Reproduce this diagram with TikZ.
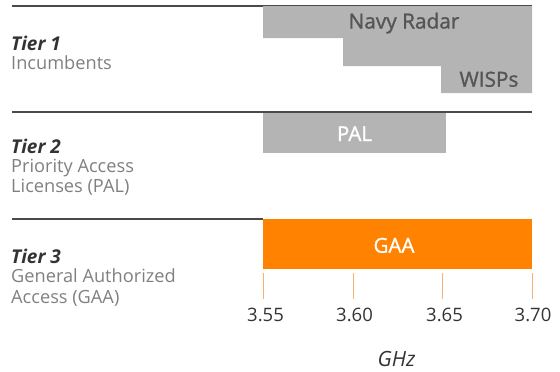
\documentclass[tikz,border=0pt]{standalone}
\usepackage{fontspec}
\setmainfont{Open Sans}
\newfontfamily\semib[FakeBold=1.2]{Open Sans}
\definecolor{bargray}{HTML}{B4B4B4}
\definecolor{bartext}{HTML}{555555}
\definecolor{rulecol}{HTML}{4A4A4A}
\definecolor{gaaorange}{HTML}{FF8200}
\definecolor{tickorange}{HTML}{F5B273}
\definecolor{tiertitle}{HTML}{333333}
\definecolor{tiersub}{HTML}{808080}
\tikzset{
  tbox/.style={inner sep=0pt, text height=12pt, text depth=2pt},
  rulel/.style={draw=rulecol, line width=1.6pt},
  graybar/.style={fill=bargray, draw=none},
  bartxt/.style={tbox, anchor=base, text=bartext, font=\semib\fontsize{20.8}{24}\selectfont},
  whitetxt/.style={tbox, anchor=base, text=white, font=\semib\fontsize{20.5}{24}\selectfont},
  tiert/.style={tbox, anchor=base west, text=tiertitle, font=\fontsize{19}{22}\selectfont\bfseries\itshape},
  tiers/.style={tbox, anchor=base west, text=tiersub, font=\fontsize{18.2}{21}\selectfont},
  tickl/.style={draw=tickorange, line width=1pt},
  ticktxt/.style={tbox, anchor=base, text=tiertitle, font=\fontsize{18.5}{21}\selectfont},
}
\begin{document}
\begin{tikzpicture}[x=1pt,y=-1pt]
\useasboundingbox (0,0) rectangle (560,372);
% rules
\draw[rulel] (12,6) -- (532,6);
\draw[rulel] (12,112) -- (532,112);
\draw[rulel] (12,219) -- (263,219);
% tier 1 bars
\fill[graybar] (263,6) -- (532,6) -- (532,93) -- (441,93) -- (441,66) -- (343,66) -- (343,38) -- (263,38) -- cycle;
\node[bartxt] (navy) at (404,28.5) {Navy Radar};
\node[bartxt] (wisps) at (489,86.7) {WISPs};
% tier 2
\fill[graybar] (263,113) rectangle (446,153);
\node[whitetxt] (pal) at (354.5,141) {PAL};
% tier 3
\fill[gaaorange] (263,219) rectangle (532,269);
\node[whitetxt] (gaa) at (394,252.7) {GAA};
% ticks
\foreach \x/\lx/\l/\n in {263/265.5/3.55/a,353/354.5/3.60/b,442/444.5/3.65/c,532/533/3.70/d}{
  \coordinate (t\n) at (\x,273);
  \coordinate (u\n) at (\x,299);
  \draw[tickl] (t\n) -- (u\n);
  \node[ticktxt] (l\n) at (\lx,321.7) {\l};
}
\node[ticktxt, font=\fontsize{21}{24}\selectfont\itshape] (ghz) at (396.5,366) {GHz};
% tier labels
\node[tiert] (t1) at (11,50.7) {Tier 1};
\node[tiers] (s1) at (11,69.3) {Incumbents};
\node[tiert] (t2) at (11,153.3) {Tier 2};
\node[tiers] (s2a) at (11,172.3) {Priority Access};
\node[tiers] (s2b) at (11,192.7) {Licenses (PAL)};
\node[tiert] (t3) at (11,263.3) {Tier 3};
\node[tiers] (s3a) at (11,282.7) {General Authorized};
\node[tiers] (s3b) at (11,303.3) {Access (GAA)};
\end{tikzpicture}
\end{document}
